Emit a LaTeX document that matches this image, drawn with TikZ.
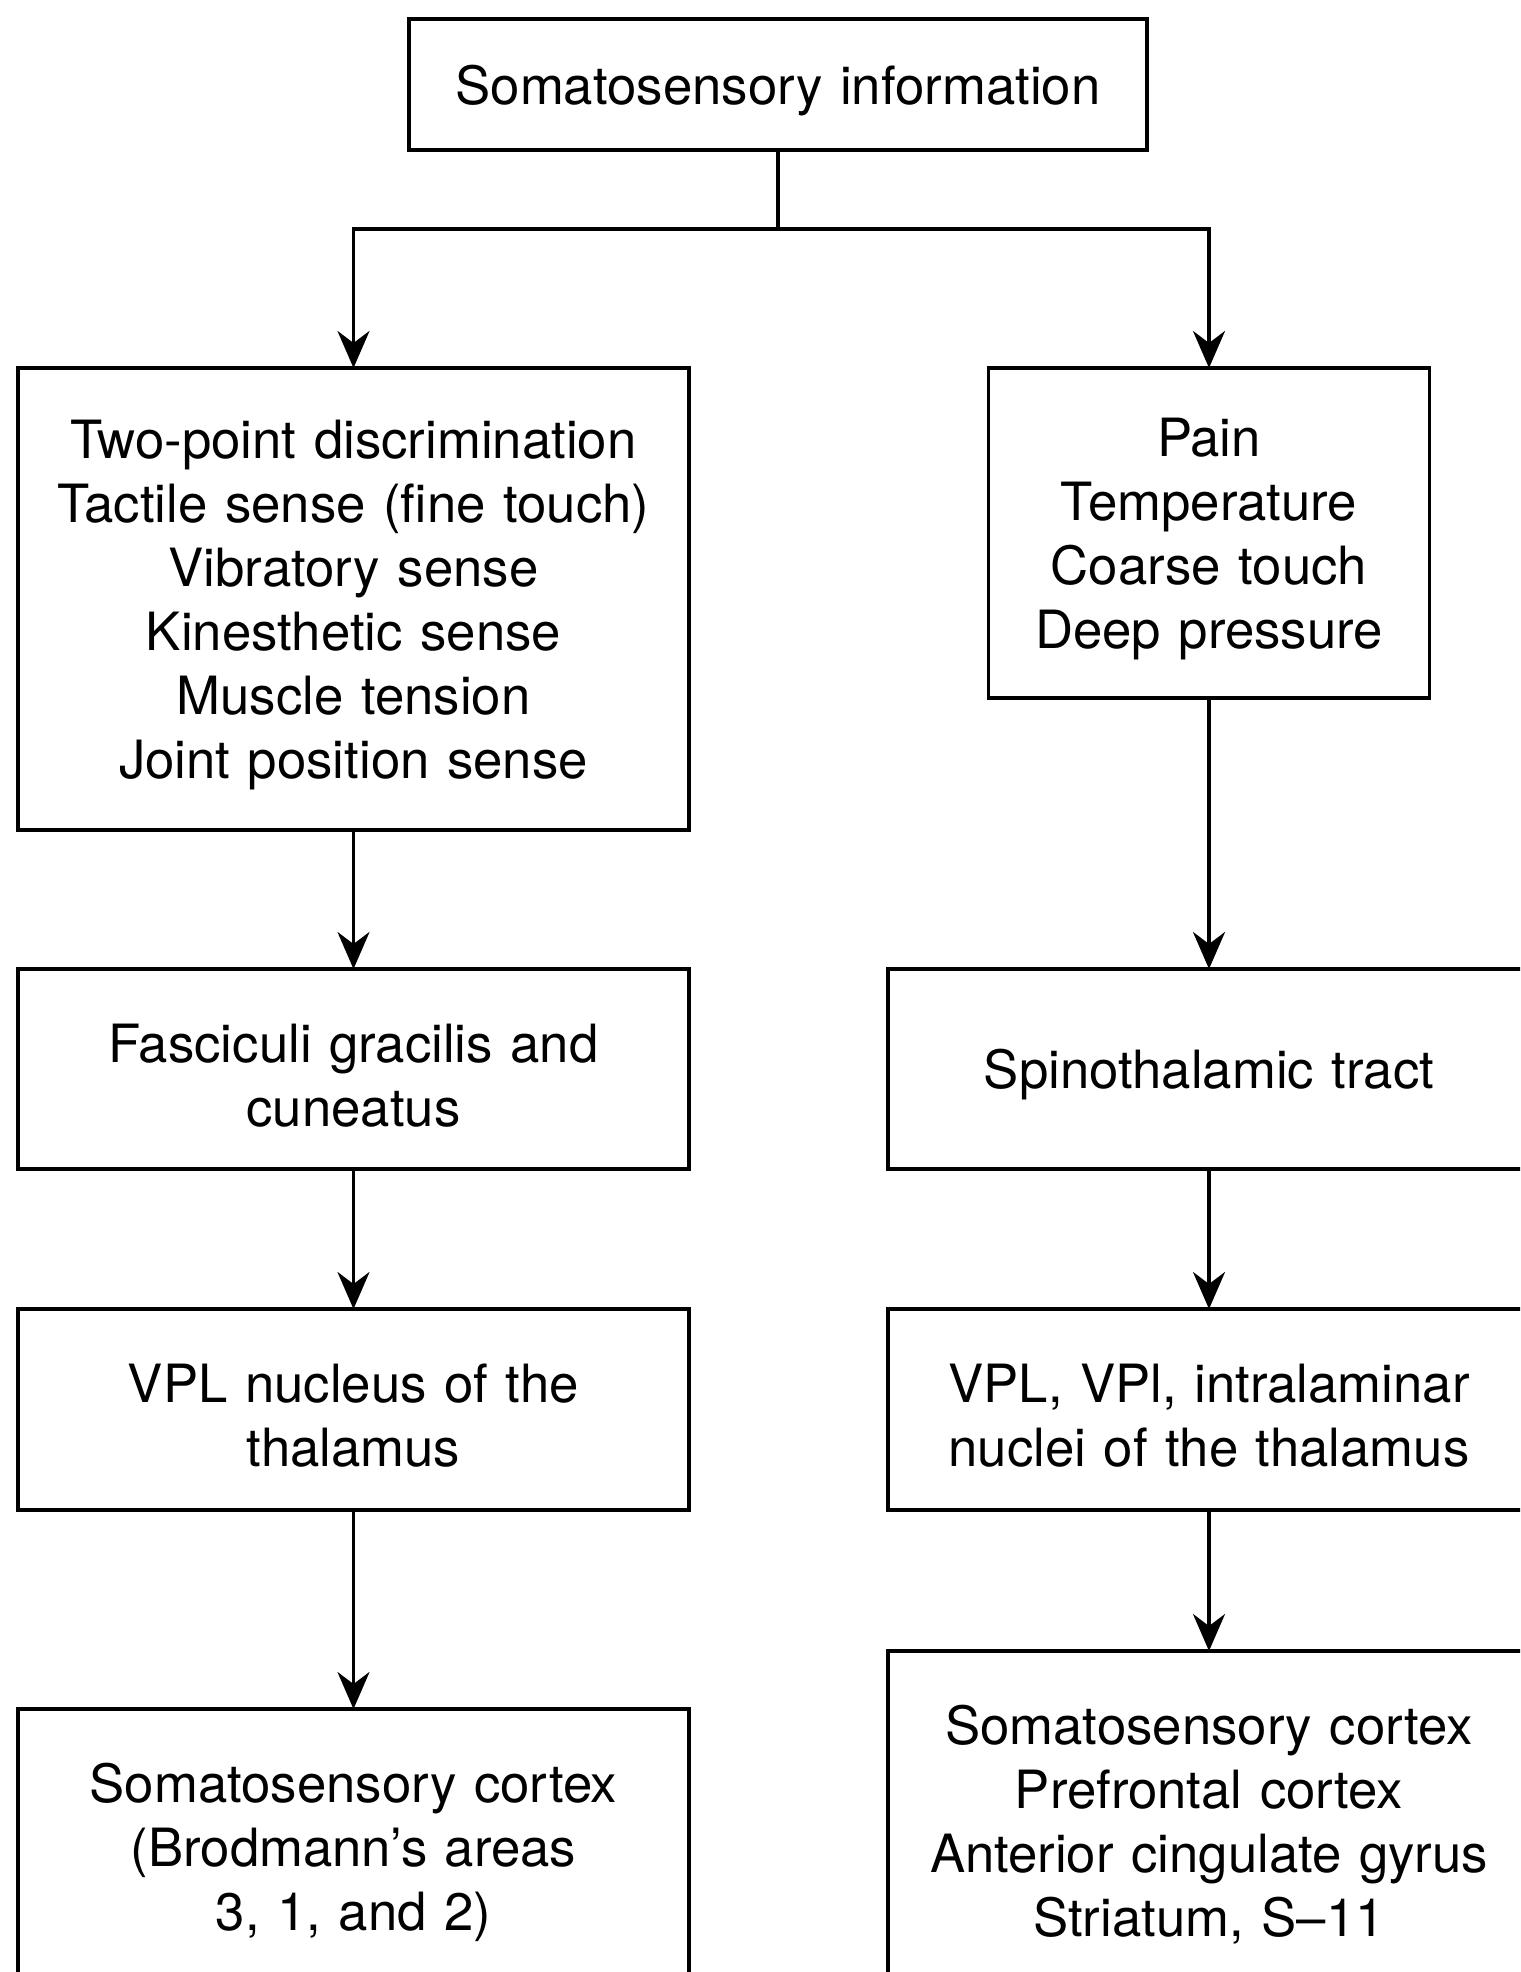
\documentclass[tikz,border=0pt]{standalone}
\usepackage{fontspec}
\setmainfont{TeX Gyre Heros}
\usetikzlibrary{arrows.meta, positioning}

\begin{document}
\begin{tikzpicture}[node distance=1.4cm, auto,
    box/.style={draw, line width=1pt, align=center, inner sep=0pt, outer sep=0pt, text height=14.6pt, font=\fontsize{15}{18.2}\selectfont},
    leftbox/.style={box, text width=6.71cm},
    rightbox/.style={box, text width=6.42cm},
    arr/.style={-{Stealth[length=3.7mm, width=3.2mm, inset=1.2mm]}, line width=1pt}]
    \path[use as bounding box] (0,0) rectangle (15.2,-19.72);
    \clip (0,0) rectangle (15.2,-19.72);

    \node[box, text width=7.38cm, minimum height=1.31cm] (info) at (7.78,-0.845) {Somatosensory information};

    \node[leftbox, minimum height=4.62cm, anchor=north] (dcml) at (3.535,-3.68) {Two-point discrimination\\ Tactile sense (fine touch)\\ Vibratory sense\\ Kinesthetic sense\\ Muscle tension\\ Joint position sense};
    \node[box, text width=4.41cm, minimum height=3.30cm, anchor=north] (pain) at (12.09,-3.68) {Pain\\ Temperature\\ Coarse touch\\ Deep pressure};

    \node[leftbox, minimum height=2cm, below=1.39cm of dcml] (fasc) {Fasciculi gracilis and\\ cuneatus};
    \node[leftbox, minimum height=2.01cm, below=1.4cm of fasc] (vplL) {VPL nucleus of the\\ thalamus};
    \node[leftbox, minimum height=2.74cm, below=1.99cm of vplL] (cortexL) {Somatosensory cortex\\ (Brodmann’s areas\\ 3, 1, and 2)};

    \node[rightbox, minimum height=2cm, below=2.71cm of pain] (spino) {Spinothalamic tract};
    \node[rightbox, minimum height=2.01cm, below=1.4cm of spino] (vplR) {VPL, VPl, intralaminar\\ nuclei of the thalamus};
    \node[rightbox, minimum height=3.36cm, below=1.41cm of vplR] (cortexR) {Somatosensory cortex\\ Prefrontal cortex\\ Anterior cingulate gyrus\\ Striatum, S–11};

    \draw[line width=1pt] (info.south) -- ++(0,-0.79) coordinate (fork);
    \draw[arr] (fork) -| (dcml.north);
    \draw[arr] (fork) -| (pain.north);

    \draw[arr] (dcml.south) -- (fasc.north);
    \draw[arr] (fasc.south) -- (vplL.north);
    \draw[arr] (vplL.south) -- (cortexL.north);

    \draw[arr] (pain.south) -- (spino.north);
    \draw[arr] (spino.south) -- (vplR.north);
    \draw[arr] (vplR.south) -- (cortexR.north);
\end{tikzpicture}
\end{document}
